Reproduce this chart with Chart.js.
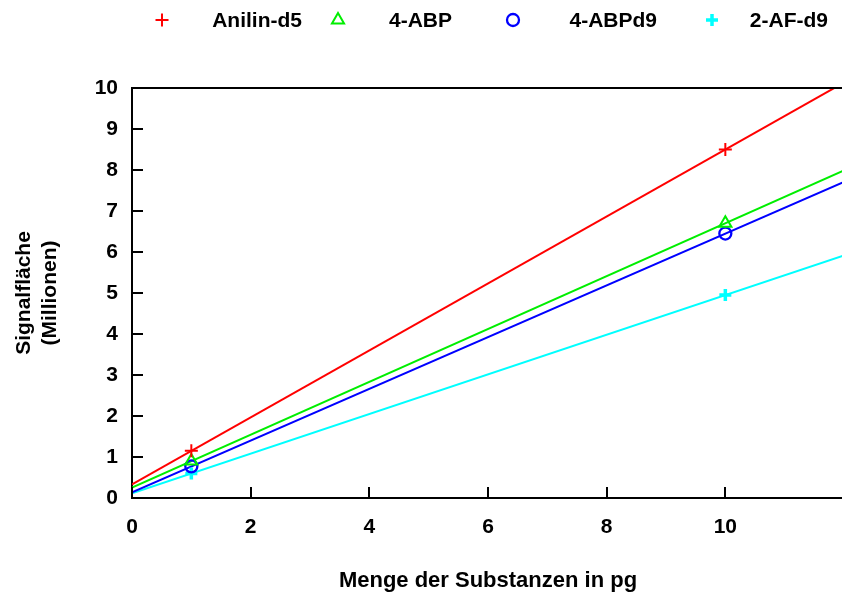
<!DOCTYPE html>
<html>
<head>
<meta charset="utf-8">
<script src="https://cdn.jsdelivr.net/npm/chart.js@4/dist/chart.umd.min.js"></script>
<style>
  html, body { margin: 0; padding: 0; background: #fff; overflow: hidden; }
  #wrap { width: 842px; height: 598px; overflow: hidden; position: relative; }
  canvas { position: absolute; left: 0; top: 0; }
</style>
</head>
<body>
<div id="wrap"><canvas id="c" width="844" height="598"></canvas></div>
<script>
// Calibration: signal area (millions) versus amount of substance (pg)
const amounts = [1, 10];
const anilinD5 = [1.15, 8.5];
const abp = [0.9, 6.7];
const abpD9 = [0.77, 6.45];
const afD9 = [0.6, 4.95];

const seriesNames = ['Anilin-d5', '4-ABP', '4-ABPd9', '2-AF-d9'];
const seriesValues = [anilinD5, abp, abpD9, afD9];
const seriesColors = ['#ff0000', '#00ee00', '#0000ff', '#00ffff'];
const markerStyles = ['cross', 'triangle', 'circle', 'cross'];
const markerRadius = [6.5, 7, 6, 6];
const markerWidth = [2, 2, 2.3, 3.5];

const xTicks = [0, 2, 4, 6, 8, 10];
const yTicks = [0, 1, 2, 3, 4, 5, 6, 7, 8, 9, 10];
const xRange = [0, 12];

const FONT = '"Liberation Sans", Arial, Helvetica, sans-serif';

// least-squares line through a series
function fit(xs, ys) {
  const n = xs.length;
  const mx = xs.reduce((a, b) => a + b, 0) / n;
  const my = ys.reduce((a, b) => a + b, 0) / n;
  let sxy = 0, sxx = 0;
  for (let i = 0; i < n; i++) { sxy += (xs[i] - mx) * (ys[i] - my); sxx += (xs[i] - mx) ** 2; }
  const m = sxy / sxx;
  return { m, b: my - m * mx };
}

const datasets = [];
seriesValues.forEach((vals, i) => {
  const f = fit(amounts, vals);
  datasets.push({
    label: seriesNames[i] + ' fit',
    type: 'line',
    data: xRange.map(x => ({ x, y: f.m * x + f.b })),
    borderColor: seriesColors[i],
    borderWidth: 2,
    pointRadius: 0,
    fill: false,
    order: 2
  });
});
seriesValues.forEach((vals, i) => {
  datasets.push({
    label: seriesNames[i],
    type: 'scatter',
    data: amounts.map((x, k) => ({ x, y: vals[k] })),
    borderColor: seriesColors[i],
    backgroundColor: 'rgba(0,0,0,0)',
    pointStyle: markerStyles[i],
    pointRadius: markerRadius[i],
    pointBorderWidth: markerWidth[i],
    showLine: false,
    order: 1
  });
});

// frame line on top plus inward tick marks
const framePlugin = {
  id: 'frame',
  afterDatasetsDraw(chart) {
    const { ctx, chartArea: a, scales } = chart;
    ctx.save();
    ctx.strokeStyle = '#000';
    ctx.lineWidth = 2;
    ctx.beginPath();
    ctx.moveTo(a.left, a.top);
    ctx.lineTo(a.right + 2, a.top);
    yTicks.forEach(v => {
      const y = Math.round(scales.y.getPixelForValue(v));
      ctx.moveTo(a.left, y);
      ctx.lineTo(a.left + 11, y);
    });
    xTicks.forEach(v => {
      const x = Math.round(scales.x.getPixelForValue(v));
      ctx.moveTo(x, a.bottom);
      ctx.lineTo(x, a.bottom - 11);
    });
    ctx.stroke();
    ctx.restore();
  }
};

// horizontal key across the top
const keyPlugin = {
  id: 'key',
  afterDraw(chart) {
    const { ctx } = chart;
    const markX = [162, 338, 513, 712];
    const textEnd = [302, 452, 657, 828];
    const y = 20;
    ctx.save();
    ctx.font = 'bold 21px ' + FONT;
    ctx.textBaseline = 'middle';
    ctx.textAlign = 'right';
    seriesNames.forEach((name, i) => {
      ctx.strokeStyle = seriesColors[i];
      ctx.fillStyle = 'rgba(0,0,0,0)';
      ctx.lineWidth = markerWidth[i];
      Chart.helpers.drawPoint(ctx, {
        pointStyle: markerStyles[i],
        radius: markerRadius[i],
        rotation: 0,
        borderWidth: markerWidth[i]
      }, markX[i], y);
      ctx.fillStyle = '#000';
      ctx.fillText(name, textEnd[i], y + 1);
    });
    ctx.restore();
  }
};

new Chart(document.getElementById('c'), {
  type: 'scatter',
  data: { datasets },
  plugins: [framePlugin, keyPlugin],
  options: {
    responsive: false,
    animation: false,
    layout: { autoPadding: false, padding: { top: 88, right: 0, left: 0, bottom: 0 } },
    plugins: { legend: { display: false }, tooltip: { enabled: false } },
    scales: {
      x: {
        type: 'linear',
        min: xRange[0],
        max: xRange[1],
        afterBuildTicks(scale) { scale.ticks = xTicks.map(v => ({ value: v })); },
        afterFit(scale) { scale.height = 100; scale.paddingLeft = 0; scale.paddingRight = 0; },
        grid: { display: true, drawOnChartArea: false, drawTicks: false },
        border: { display: true, color: '#000', width: 2 },
        ticks: {
          color: '#000',
          padding: 17,
          font: { family: FONT, size: 21, weight: 'bold' },
          maxRotation: 0
        },
        title: {
          display: true,
          text: 'Menge der Substanzen in pg',
          color: '#000',
          font: { family: FONT, size: 22, weight: 'bold' },
          padding: { top: 0, bottom: 4 }
        }
      },
      y: {
        type: 'linear',
        min: 0,
        max: 10,
        afterBuildTicks(scale) { scale.ticks = yTicks.map(v => ({ value: v })); },
        afterFit(scale) { scale.width = 132; scale.paddingTop = 0; scale.paddingBottom = 0; },
        grid: { display: true, drawOnChartArea: false, drawTicks: false },
        border: { display: true, color: '#000', width: 2 },
        ticks: {
          color: '#000',
          padding: 14,
          font: { family: FONT, size: 21, weight: 'bold' }
        },
        title: {
          display: true,
          text: ['Signalfläche', '(Millionen)'],
          color: '#000',
          font: { family: FONT, size: 21, weight: 'bold', lineHeight: 1.25 },
          padding: { top: 11, bottom: 0 }
        }
      }
    }
  }
});
</script>
</body>
</html>
